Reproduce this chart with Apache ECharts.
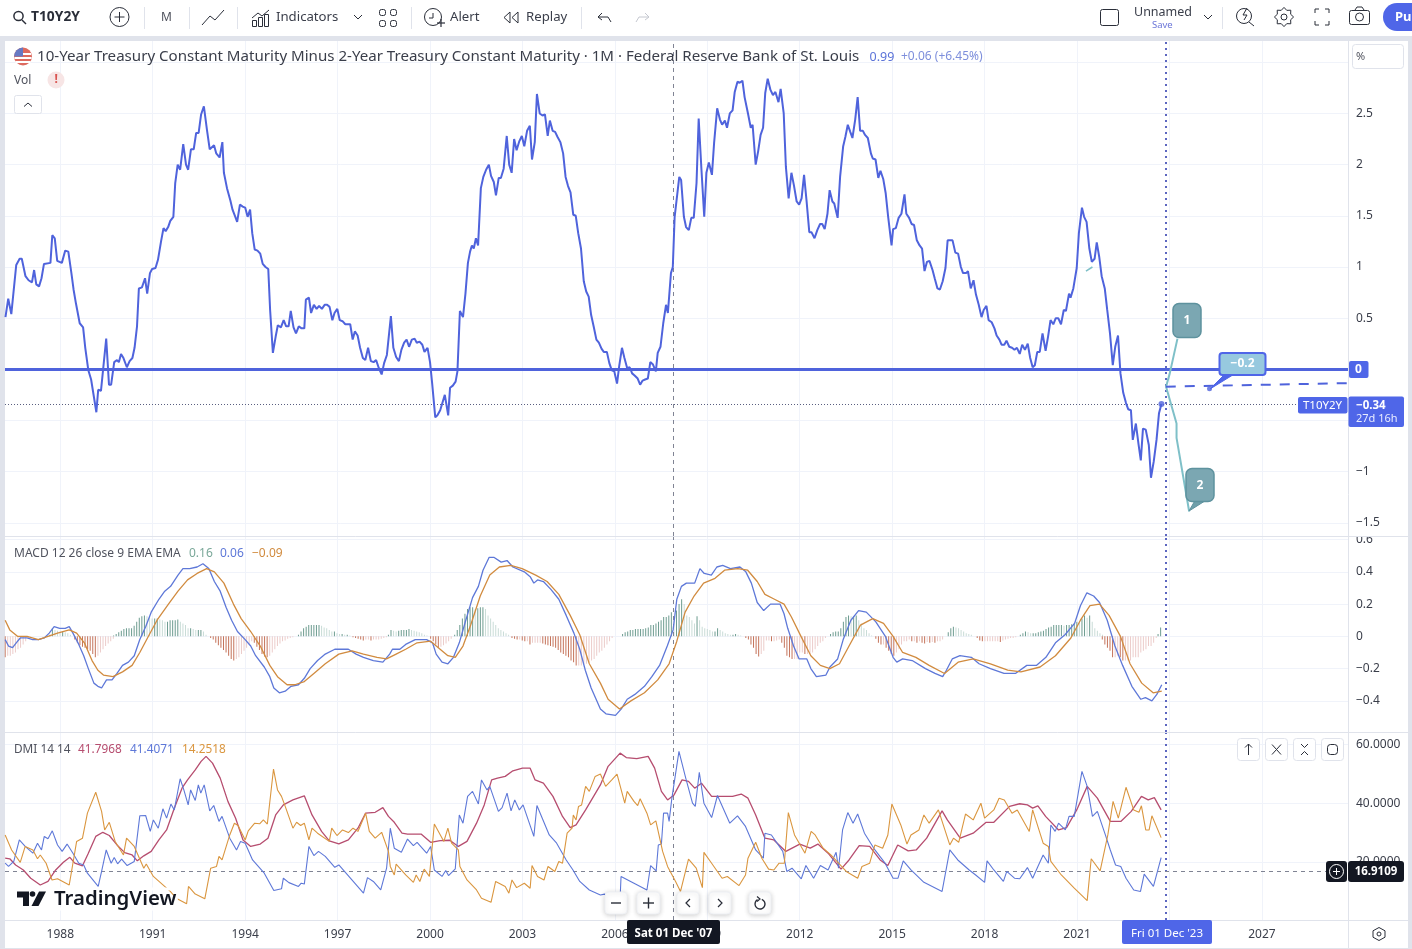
<!DOCTYPE html>
<html><head><meta charset="utf-8">
<style>html,body{margin:0;padding:0;background:#fff;overflow:hidden}#chart{width:1412px;height:949px}</style>
<script src="https://cdn.jsdelivr.net/npm/echarts@6/dist/echarts.min.js"></script>
</head><body><div id="chart"></div>
<script>
const yearTicks=[1988,1991,1994,1997,2000,2003,2006,2009,2012,2015,2018,2021,2024,2027];
const spreadTicks=[2.5,2,1.5,1,0.5,-1,-1.5];
const spreadGrid=[3,2.5,2,1.5,1,0.5,0,-0.5,-1,-1.5];
const macdTicks=[0.6,0.4,0.2,0,-0.2,-0.4];
const dmiTicks=[60,40,20];
const crossDate=2007.89, cursorDate=2023.88, lastPrice=-0.34, crossDmi=16.91;

const spread=[[1986.22,.51],[1986.31,.69],[1986.41,.54],[1986.57,1.02],[1986.68,1.08],[1986.75,1.08],[1986.87,.91],[1986.97,.87],[1987.08,.85],[1987.15,.97],[1987.22,.83],[1987.31,.81],[1987.39,.89],[1987.47,1.03],[1987.68,1.04],[1987.74,1.31],[1987.82,1.28],[1987.9,1.06],[1988.05,1.04],[1988.16,1.16],[1988.26,1.15],[1988.36,.94],[1988.43,.78],[1988.51,.64],[1988.63,.45],[1988.74,.41],[1988.81,.21],[1988.91,-.01],[1989,-.1],[1989.17,-.42],[1989.23,-.2],[1989.32,-.21],[1989.41,.06],[1989.49,.3],[1989.58,-.15],[1989.65,-.15],[1989.75,.07],[1989.84,.09],[1989.9,.07],[1989.97,.15],[1990.05,.11],[1990.16,.02],[1990.25,.08],[1990.34,.11],[1990.41,.21],[1990.49,.42],[1990.55,.79],[1990.65,.8],[1990.75,.89],[1990.82,.74],[1990.91,.94],[1990.98,.98],[1991.09,.99],[1991.17,1.07],[1991.27,1.25],[1991.35,1.38],[1991.42,1.35],[1991.5,1.39],[1991.57,1.45],[1991.67,1.49],[1991.73,1.82],[1991.81,2],[1991.89,1.95],[1991.99,2.2],[1992.08,2],[1992.15,1.95],[1992.24,2.15],[1992.33,2.15],[1992.41,2.31],[1992.49,2.31],[1992.57,2.49],[1992.66,2.57],[1992.76,2.34],[1992.85,2.15],[1992.91,2.14],[1992.99,2.19],[1993.06,2.11],[1993.17,2.07],[1993.26,2.22],[1993.31,1.92],[1993.41,1.77],[1993.52,1.65],[1993.59,1.56],[1993.68,1.49],[1993.74,1.44],[1993.83,1.61],[1993.92,1.59],[1994,1.58],[1994.08,1.49],[1994.16,1.56],[1994.23,1.33],[1994.31,1.17],[1994.4,1.16],[1994.49,1.13],[1994.57,1.03],[1994.66,1],[1994.75,.98],[1994.81,.58],[1994.9,.16],[1994.99,.32],[1995.06,.43],[1995.16,.41],[1995.25,.48],[1995.33,.42],[1995.41,.42],[1995.48,.57],[1995.57,.41],[1995.65,.35],[1995.74,.42],[1995.83,.4],[1995.92,.4],[1995.97,.68],[1996.07,.7],[1996.14,.55],[1996.23,.63],[1996.32,.59],[1996.4,.62],[1996.49,.59],[1996.58,.63],[1996.66,.63],[1996.74,.61],[1996.83,.48],[1996.9,.55],[1996.99,.59],[1997.07,.48],[1997.16,.47],[1997.25,.44],[1997.31,.45],[1997.41,.44],[1997.49,.29],[1997.56,.37],[1997.65,.33],[1997.73,.21],[1997.82,.11],[1997.9,.09],[1997.99,.21],[1998.08,.08],[1998.17,.07],[1998.25,.09],[1998.34,.01],[1998.43,-.05],[1998.51,.06],[1998.6,.14],[1998.64,.15],[1998.73,.52],[1998.81,.21],[1998.9,.12],[1998.99,.08],[1999.07,.19],[1999.16,.26],[1999.24,.29],[1999.32,.22],[1999.41,.29],[1999.5,.3],[1999.57,.26],[1999.66,.27],[1999.75,.24],[1999.82,.17],[1999.92,.21],[2000,.07],[2000.07,-.14],[2000.17,-.47],[2000.24,-.45],[2000.33,-.4],[2000.48,-.25],[2000.59,-.45],[2000.65,-.18],[2000.74,-.16],[2000.83,-.12],[2000.89,-.02],[2000.97,.57],[2001.07,.51],[2001.15,.74],[2001.23,1.04],[2001.3,1.15],[2001.36,1.21],[2001.42,1.18],[2001.49,1.28],[2001.56,1.21],[2001.65,1.77],[2001.73,1.88],[2001.82,1.95],[2001.91,2],[2001.98,1.89],[2002.07,1.83],[2002.14,1.7],[2002.23,1.87],[2002.3,1.87],[2002.39,1.96],[2002.49,2.28],[2002.57,2],[2002.65,1.92],[2002.73,2.25],[2002.81,2.14],[2002.9,2.23],[2002.98,2.28],[2003.06,2.18],[2003.15,2.33],[2003.24,2.38],[2003.31,2.05],[2003.4,2.22],[2003.47,2.69],[2003.56,2.5],[2003.65,2.48],[2003.73,2.49],[2003.82,2.28],[2003.89,2.43],[2003.98,2.33],[2004.06,2.32],[2004.14,2.27],[2004.23,2.22],[2004.32,2.11],[2004.4,1.88],[2004.48,1.79],[2004.56,1.73],[2004.65,1.51],[2004.73,1.5],[2004.81,1.33],[2004.9,1.18],[2004.99,.86],[2005.07,.76],[2005.15,.71],[2005.23,.53],[2005.31,.42],[2005.4,.29],[2005.48,.26],[2005.57,.2],[2005.64,.17],[2005.74,.17],[2005.82,.06],[2005.9,-.01],[2005.98,-.02],[2006.07,-.14],[2006.14,.03],[2006.23,.21],[2006.31,.11],[2006.4,.01],[2006.48,.02],[2006.56,-.04],[2006.64,-.06],[2006.74,-.09],[2006.82,-.15],[2006.9,-.11],[2006.98,-.1],[2007.07,-.09],[2007.15,.07],[2007.23,.05],[2007.33,-.02],[2007.39,.16],[2007.48,.22],[2007.57,.45],[2007.66,.63],[2007.72,.55],[2007.82,.94],[2007.88,1],[2007.94,1.49],[2008.09,1.88],[2008.15,1.85],[2008.24,1.49],[2008.31,1.39],[2008.4,1.36],[2008.48,1.48],[2008.56,1.48],[2008.65,1.82],[2008.72,2.45],[2008.81,1.95],[2008.9,1.49],[2008.97,1.92],[2009.05,2.02],[2009.15,1.9],[2009.22,2.21],[2009.32,2.55],[2009.41,2.44],[2009.48,2.39],[2009.57,2.43],[2009.64,2.36],[2009.73,2.5],[2009.82,2.53],[2009.89,2.71],[2009.98,2.81],[2010.05,2.8],[2010.14,2.82],[2010.21,2.66],[2010.32,2.5],[2010.41,2.36],[2010.47,2.39],[2010.57,2],[2010.65,2.13],[2010.73,2.29],[2010.81,2.36],[2010.88,2.7],[2010.96,2.84],[2011.05,2.73],[2011.13,2.68],[2011.21,2.71],[2011.31,2.61],[2011.38,2.74],[2011.48,2.5],[2011.55,1.98],[2011.64,1.67],[2011.73,1.92],[2011.81,1.8],[2011.9,1.64],[2011.98,1.61],[2012.06,1.67],[2012.14,1.9],[2012.22,1.65],[2012.31,1.34],[2012.38,1.34],[2012.48,1.28],[2012.57,1.36],[2012.66,1.42],[2012.73,1.42],[2012.81,1.37],[2012.9,1.52],[2012.97,1.75],[2013.06,1.64],[2013.12,1.62],[2013.23,1.48],[2013.31,1.88],[2013.41,2.18],[2013.48,2.27],[2013.56,2.39],[2013.64,2.32],[2013.71,2.26],[2013.8,2.44],[2013.88,2.66],[2013.96,2.33],[2014.05,2.33],[2014.12,2.29],[2014.21,2.26],[2014.31,2.11],[2014.37,2.06],[2014.46,2.05],[2014.55,1.87],[2014.62,1.94],[2014.71,1.86],[2014.79,1.72],[2014.87,1.49],[2014.98,1.21],[2015.03,1.37],[2015.12,1.38],[2015.21,1.48],[2015.3,1.52],[2015.4,1.71],[2015.46,1.52],[2015.55,1.48],[2015.63,1.42],[2015.71,1.41],[2015.8,1.26],[2015.89,1.21],[2015.97,1.18],[2016.05,.96],[2016.13,1.05],[2016.21,1.06],[2016.31,.97],[2016.38,.89],[2016.47,.79],[2016.55,.78],[2016.64,.86],[2016.73,.99],[2016.8,1.26],[2016.89,1.26],[2016.96,1.26],[2017.05,1.14],[2017.14,1.13],[2017.23,1],[2017.3,.94],[2017.4,.94],[2017.46,.96],[2017.55,.79],[2017.64,.87],[2017.72,.73],[2017.81,.63],[2017.9,.51],[2017.97,.58],[2018.06,.62],[2018.13,.48],[2018.23,.46],[2018.32,.4],[2018.39,.33],[2018.48,.29],[2018.55,.24],[2018.64,.24],[2018.71,.28],[2018.8,.22],[2018.89,.21],[2018.97,.19],[2019.05,.21],[2019.14,.15],[2019.22,.24],[2019.31,.19],[2019.4,.25],[2019.48,.11],[2019.56,.02],[2019.63,.04],[2019.71,.17],[2019.79,.17],[2019.88,.35],[2019.98,.18],[2020.06,.32],[2020.14,.48],[2020.23,.44],[2020.31,.5],[2020.39,.5],[2020.48,.44],[2020.57,.58],[2020.64,.57],[2020.74,.74],[2020.79,.7],[2020.88,.79],[2020.99,.99],[2021.06,1.33],[2021.16,1.58],[2021.23,1.49],[2021.31,1.44],[2021.4,1.18],[2021.48,1.05],[2021.57,1.08],[2021.64,1.24],[2021.72,1.1],[2021.8,.91],[2021.9,.79],[2021.98,.58],[2022.07,.35],[2022.16,.04],[2022.24,.22],[2022.33,.33],[2022.41,-.04],[2022.5,-.23],[2022.59,-.33],[2022.66,-.39],[2022.75,-.4],[2022.81,-.69],[2022.91,-.53],[2023,-.74],[2023.07,-.89],[2023.14,-.58],[2023.23,-.59],[2023.33,-.74],[2023.4,-1.06],[2023.49,-.9],[2023.58,-.69],[2023.66,-.43],[2023.74,-.34]];
const elliott=[[2024.26,.30],[2024.01,-.04],[2023.89,-.17],[2024.23,-.53],[2024.23,-.67],[2024.64,-1.39]];
const elliottStub=[[2021.29,.96],[2021.5,1.0]];
const targetLine=[[2023.88,-.17],[2029.795,-.135]];
const targetAnchor=[[2025.3,-.19]];

const macd=[[1986.21,-.02],[1986.32,-.06],[1986.45,-.07],[1986.57,-.04],[1986.7,-.01],[1986.92,-.01],[1987.1,-.02],[1987.29,-.02],[1987.48,-.01],[1987.64,.02],[1987.8,.06],[1987.98,.05],[1988.16,.05],[1988.29,.06],[1988.41,.02],[1988.6,-.05],[1988.76,-.12],[1988.91,-.2],[1989.09,-.29],[1989.22,-.31],[1989.34,-.32],[1989.5,-.27],[1989.68,-.27],[1989.84,-.23],[1990.02,-.18],[1990.21,-.16],[1990.4,-.12],[1990.58,-.02],[1990.77,.06],[1990.95,.15],[1991.2,.23],[1991.39,.28],[1991.58,.31],[1991.82,.38],[1991.98,.42],[1992.2,.42],[1992.44,.43],[1992.63,.45],[1992.82,.42],[1993,.34],[1993.19,.28],[1993.38,.18],[1993.56,.1],[1993.75,.03],[1994,-.02],[1994.18,-.06],[1994.34,-.12],[1994.62,-.19],[1994.8,-.25],[1994.93,-.32],[1995.11,-.35],[1995.3,-.34],[1995.49,-.31],[1995.73,-.3],[1995.92,-.26],[1996.11,-.2],[1996.35,-.15],[1996.6,-.11],[1996.91,-.08],[1997.35,-.08],[1997.6,-.11],[1997.84,-.13],[1998.16,-.15],[1998.47,-.16],[1998.69,-.11],[1998.78,-.08],[1999.02,-.08],[1999.21,-.05],[1999.52,-.02],[1999.89,-.02],[2000.08,-.04],[2000.2,-.11],[2000.39,-.16],[2000.58,-.17],[2000.76,-.13],[2000.95,-.04],[2001.13,.08],[2001.38,.24],[2001.57,.31],[2001.72,.41],[2001.92,.49],[2002.07,.49],[2002.31,.46],[2002.5,.47],[2002.69,.43],[2003.06,.4],[2003.25,.37],[2003.37,.33],[2003.49,.35],[2003.68,.34],[2003.93,.29],[2004.18,.23],[2004.42,.13],[2004.67,.02],[2004.86,-.08],[2005.04,-.21],[2005.23,-.32],[2005.53,-.45],[2005.71,-.48],[2006.02,-.49],[2006.21,-.45],[2006.4,-.39],[2006.65,-.36],[2006.96,-.31],[2007.2,-.25],[2007.45,-.18],[2007.7,-.06],[2007.89,.04],[2008.01,.23],[2008.16,.31],[2008.32,.33],[2008.59,.33],[2008.76,.42],[2008.9,.39],[2009.13,.38],[2009.31,.43],[2009.5,.44],[2009.75,.42],[2010.06,.43],[2010.25,.4],[2010.43,.33],[2010.62,.21],[2010.83,.16],[2011.05,.2],[2011.36,.2],[2011.49,.14],[2011.61,.05],[2011.8,-.06],[2011.98,-.14],[2012.23,-.14],[2012.36,-.2],[2012.54,-.25],[2012.85,-.24],[2012.98,-.19],[2013.23,-.14],[2013.41,-.02],[2013.66,.1],[2013.91,.16],[2014.16,.15],[2014.47,.09],[2014.78,0],[2015.03,-.13],[2015.15,-.16],[2015.34,-.14],[2015.65,-.15],[2016.08,-.2],[2016.39,-.23],[2016.64,-.25],[2016.76,-.21],[2016.95,-.14],[2017.2,-.12],[2017.57,-.13],[2017.82,-.17],[2018.19,-.2],[2018.63,-.23],[2019,-.23],[2019.37,-.18],[2019.68,-.18],[2019.99,-.13],[2020.3,-.04],[2020.61,.01],[2020.92,.08],[2021.11,.19],[2021.32,.27],[2021.54,.25],[2021.73,.21],[2021.98,.1],[2022.23,-.06],[2022.48,-.18],[2022.78,-.31],[2023.07,-.39],[2023.22,-.38],[2023.43,-.4],[2023.59,-.36],[2023.75,-.3]];
const signal=[[1986.21,.1],[1986.36,.04],[1986.61,0],[1986.92,0],[1987.29,-.02],[1987.6,0],[1987.91,.02],[1988.29,.04],[1988.53,.02],[1988.78,-.04],[1989.03,-.15],[1989.22,-.21],[1989.4,-.24],[1989.71,-.25],[1990.02,-.22],[1990.33,-.18],[1990.58,-.1],[1990.83,-.01],[1991.14,.1],[1991.51,.2],[1991.82,.28],[1992.13,.35],[1992.44,.39],[1992.75,.42],[1993,.4],[1993.31,.33],[1993.62,.2],[1993.87,.11],[1994.18,.03],[1994.49,-.06],[1994.8,-.18],[1995.05,-.25],[1995.36,-.3],[1995.61,-.3],[1995.92,-.28],[1996.23,-.23],[1996.6,-.17],[1997.04,-.11],[1997.47,-.09],[1997.84,-.11],[1998.28,-.13],[1998.59,-.14],[1998.9,-.11],[1999.21,-.08],[1999.58,-.04],[2000.02,-.03],[2000.27,-.07],[2000.58,-.12],[2000.82,-.13],[2001.07,-.06],[2001.32,.07],[2001.63,.25],[2001.94,.38],[2002.25,.43],[2002.62,.44],[2002.99,.42],[2003.43,.38],[2003.8,.34],[2004.18,.26],[2004.55,.13],[2004.86,.01],[2005.17,-.17],[2005.53,-.29],[2005.78,-.39],[2006.15,-.45],[2006.52,-.4],[2006.96,-.35],[2007.39,-.27],[2007.76,-.17],[2008.01,-.03],[2008.28,.15],[2008.57,.25],[2008.88,.33],[2009.25,.36],[2009.56,.41],[2009.99,.42],[2010.31,.41],[2010.62,.34],[2010.87,.26],[2011.18,.23],[2011.49,.2],[2011.73,.12],[2012.04,0],[2012.36,-.12],[2012.67,-.18],[2012.98,-.2],[2013.29,-.17],[2013.6,-.06],[2013.97,.07],[2014.37,.11],[2014.72,.08],[2015.03,0],[2015.34,-.1],[2015.77,-.13],[2016.2,-.18],[2016.7,-.23],[2017.14,-.16],[2017.63,-.14],[2018.19,-.17],[2018.75,-.21],[2019.18,-.22],[2019.8,-.19],[2020.3,-.12],[2020.8,-.01],[2021.11,.1],[2021.42,.19],[2021.73,.2],[2022.04,.13],[2022.41,0],[2022.72,-.17],[2023.1,-.29],[2023.47,-.35],[2023.75,-.34]];
const histRuns=[
[1986.21,[-.13,-.12,-.12,-.11,-.1,-.08,-.07,-.05,-.03,-.01]],
[1987.66,[.01,.05,.04,.035,.03,.03,.025,.02,.01]],
[1988.47,[-.02,-.04,-.055,-.065,-.07,-.08,-.09,-.11,-.13,-.12,-.1,-.08,-.06,-.045,-.03,-.015]],
[1989.73,[.005,.015,.025,.035,.045,.05,.05,.05,.065,.09,.115,.125,.13,.125,.12,.11,.11,.11,.105,.1,.09,.09,.1,.1,.1,.105,.09,.08,.07,.05,.05,.045,.04,.04,.04,.03,.01]],
[1992.88,[-.01,-.02,-.04,-.055,-.07,-.085,-.1,-.12,-.14,-.15,-.14,-.13,-.11,-.09,-.07,-.05,-.03,-.04,-.065,-.085,-.11,-.125,-.13,-.12,-.1,-.08,-.06,-.045,-.03,-.025,-.015,-.01,-.005]],
[1995.73,[.01,.03,.05,.06,.07,.07,.07,.07,.07,.065,.055,.05,.04,.03,.03,.02,.015,.015,.01,.01,.005]],
[1997.5,[-.005,-.01,-.015,-.02,-.025,-.02,-.02,-.025,-.02,-.02,-.02,-.015,-.01,-.005]],
[1998.65,[.01,.04,.035,.03,.035,.04,.04,.04,.045,.04,.035,.03,.025,.02,.01,.005]],
[2000.02,[-.015,-.03,-.05,-.07,-.065,-.055,-.045,-.03,-.015]],
[2000.8,[.01,.04,.07,.11,.14,.17,.18,.18,.17,.175,.18,.18,.17,.13,.11,.09,.07,.05,.04,.03,.02,.01]],
[2002.66,[-.01,-.015,-.02,-.02,-.025,-.03,-.03,-.05,-.04,-.04,-.04,-.04,-.045,-.05,-.055,-.06,-.065,-.07,-.085,-.1,-.11,-.12,-.13,-.15,-.16,-.18,-.18,-.18,-.17,-.17,-.16,-.15,-.14,-.12,-.1,-.09,-.07,-.05,-.03,-.01]],
[2006.25,[.015,.025,.03,.04,.04,.045,.045,.045,.045,.05,.055,.07,.07,.08,.09,.1,.12,.12,.13,.15,.12,.16,.2,.23,.2,.13,.12,.1,.08,.125,.1,.06,.05,.045,.04,.03,.03,.05,.04,.03,.02,.015,.01,.01,.015,.01,.005]],
[2010.25,[-.01,-.02,-.05,-.07,-.11,-.125,-.11,-.09,-.025,-.025,-.03,-.03,-.025,-.02,-.04,-.07,-.12,-.13,-.14,-.14,-.14,-.1,-.1,-.11,-.11,-.11,-.1,-.08,-.06,-.04,-.03,-.01]],
[2013.0,[.015,.025,.03,.03,.05,.09,.12,.13,.125,.125,.13,.1,.08,.05,.04,.02,.005]],
[2014.47,[-.015,-.04,-.05,-.05,-.07,-.09,-.11,-.12,-.1,-.08,-.05,-.03,-.03,-.02,-.03,-.03,-.04,-.03,-.04,-.045,-.035,-.04,-.035,-.04,-.03,-.03,-.02]],
[2016.82,[.025,.05,.06,.055,.05,.04,.03,.02,.015,.01]],
[2017.76,[-.01,-.025,-.03,-.03,-.03,-.03,-.03,-.03,-.03,-.035,-.025,-.02,-.015,-.01,-.01,-.005]],
[2019.16,[.01,.02,.03,.025,.02,.02,.02,.025,.03,.035,.045,.055,.06,.07,.07,.07,.07,.065,.07,.07,.075,.08,.09,.085,.11,.13,.115,.13,.09,.05,.035,.02,.01]],
[2021.82,[-.02,-.05,-.07,-.09,-.13,-.13,-.12,-.13,-.15,-.15,-.15,-.15,-.13,-.13,-.13,-.1,-.09,-.08,-.06,-.06,-.04,-.01]],
[2023.63,[.015,.055]]
];
const adx=[[1986.21,21.3],[1986.36,21.1],[1986.55,19],[1986.8,17.3],[1987.04,14.5],[1987.35,12.2],[1987.6,13.4],[1987.85,17.3],[1988.1,19.9],[1988.31,21.6],[1988.47,19.6],[1988.72,18.7],[1988.91,23],[1989.15,28.7],[1989.38,30.1],[1989.59,29],[1989.84,25.8],[1990.09,23.2],[1990.33,22.4],[1990.5,20.4],[1990.71,22.1],[1990.95,23.6],[1991.2,27.5],[1991.45,30.9],[1991.7,38.3],[1991.95,45.1],[1992.13,47.9],[1992.38,51.3],[1992.57,54.2],[1992.73,55.9],[1992.94,53.6],[1993.19,48.5],[1993.44,40.6],[1993.69,34.9],[1993.93,27.5],[1994.18,25.3],[1994.49,26.1],[1994.74,28.1],[1994.99,36],[1995.24,39.4],[1995.55,41.1],[1995.92,42.5],[1996.17,36],[1996.48,30.4],[1996.73,27.2],[1997.04,26.2],[1997.35,27.5],[1997.66,31.5],[1997.91,36.6],[1998.22,36.9],[1998.47,38.5],[1998.65,35.5],[1998.84,33.5],[1999.09,29.8],[1999.27,29.5],[1999.71,29.5],[2000.02,26.7],[2000.33,27.3],[2000.64,27.4],[2000.92,25.3],[2001.2,27],[2001.51,33.2],[2001.76,39.4],[2002,47.9],[2002.19,48.5],[2002.44,49.1],[2002.69,51],[2003,51.9],[2003.25,51.9],[2003.41,47.9],[2003.68,46.8],[2003.99,42.3],[2004.3,35.5],[2004.55,31.7],[2004.74,32.6],[2005.05,37.7],[2005.53,46.2],[2005.78,52.5],[2006.17,57],[2006.37,55.5],[2006.71,55.1],[2007.08,55.9],[2007.29,51.9],[2007.51,44],[2007.71,41.1],[2007.92,42.8],[2008.18,47.9],[2008.39,47.4],[2008.59,45.1],[2008.81,46.8],[2009.14,42.3],[2009.56,42.3],[2009.82,42.3],[2010.1,43.1],[2010.32,41.7],[2010.57,36],[2010.87,28.1],[2011.16,27.5],[2011.55,23.6],[2012,26.1],[2012.34,24.7],[2012.59,26.1],[2012.92,23],[2013.34,17.6],[2013.6,20.7],[2013.93,25.6],[2014.27,25.3],[2014.61,20.7],[2014.86,18.8],[2015.18,25.8],[2015.52,23.8],[2015.78,24.1],[2016.12,28.1],[2016.62,37.4],[2016.79,34.3],[2017.21,28.1],[2017.63,29.8],[2018.05,33.5],[2018.3,33.5],[2018.81,38.9],[2019.14,39.8],[2019.39,39.4],[2019.56,38.3],[2019.73,39.1],[2019.98,35.5],[2020.4,30.9],[2020.66,31.7],[2020.99,37.7],[2021.33,45.7],[2021.66,41.7],[2022.08,33.8],[2022.42,33.8],[2022.76,37.2],[2023.09,42.3],[2023.31,41.1],[2023.51,41.9],[2023.73,37.7]];
const plusDi=[[1986.21,19.6],[1986.32,18.5],[1986.49,20.2],[1986.67,27.5],[1986.86,25.3],[1987.11,23],[1987.26,26.4],[1987.39,24.1],[1987.48,28.7],[1987.6,27.9],[1987.74,30.6],[1987.91,25.8],[1988.06,23.6],[1988.22,26.1],[1988.41,23],[1988.6,19.6],[1988.76,19],[1988.88,16.2],[1989.23,11.7],[1989.34,16.8],[1989.4,16.5],[1989.49,24.1],[1989.65,19.6],[1989.75,21.5],[1989.86,19.4],[1989.99,21],[1990.17,18.8],[1990.4,20.2],[1990.58,35.7],[1990.77,35.8],[1990.92,30.4],[1991.02,34.3],[1991.18,31.5],[1991.33,38.1],[1991.45,34.9],[1991.59,39.7],[1991.7,37.7],[1991.89,48.3],[1992.01,44.5],[1992.15,39.4],[1992.23,44.5],[1992.38,40.9],[1992.48,46.2],[1992.56,43.4],[1992.67,46.2],[1992.85,37.4],[1992.98,39.2],[1993.15,33.8],[1993.25,35.5],[1993.5,28.1],[1993.72,24.1],[1993.85,27],[1994,26.4],[1994.24,20.7],[1994.62,16.2],[1994.93,10.3],[1995.18,10.9],[1995.24,14.5],[1995.42,13],[1995.73,11.7],[1995.82,12.8],[1995.92,12.5],[1996.07,25.3],[1996.23,22.2],[1996.38,23.6],[1996.6,21.9],[1996.91,18.2],[1997.04,19],[1997.84,9.4],[1997.97,14.7],[1998.16,13.4],[1998.4,10.5],[1998.59,17.9],[1998.71,31.5],[1998.84,24.7],[1999.07,23.3],[1999.27,27.8],[1999.46,25.6],[1999.58,26.7],[1999.89,23],[2000.02,25.3],[2000.14,17.3],[2000.39,15.1],[2000.51,17.1],[2000.6,15.4],[2000.82,17.7],[2000.95,36],[2001.07,33.2],[2001.22,42.3],[2001.38,44],[2001.57,39.7],[2001.67,47.9],[2001.85,44.5],[2001.94,45.7],[2002.22,37.2],[2002.34,38.5],[2002.5,43.4],[2002.63,37.4],[2002.75,41.1],[2002.9,37.7],[2003.02,39.4],[2003.37,28.7],[2003.47,39.2],[2003.87,29.2],[2004.11,26.4],[2004.42,20.7],[2004.64,17.3],[2004.86,13.4],[2005.17,10.5],[2005.53,8.8],[2005.66,9.1],[2006.17,7.7],[2006.2,15.1],[2007.04,10.5],[2007.16,18.8],[2007.34,17],[2007.41,25.8],[2007.51,26.1],[2007.58,36.6],[2007.71,36.6],[2007.76,33.8],[2007.85,41.7],[2008.08,57.6],[2008.3,48.5],[2008.52,40],[2008.61,38.9],[2008.74,50.5],[2008.89,40],[2009.14,35.1],[2009.33,42.6],[2009.73,33.2],[2009.98,35.7],[2010.24,32.1],[2010.57,24.1],[2010.82,21.3],[2010.87,29.8],[2011.08,29.2],[2011.45,23.6],[2011.58,16.8],[2011.75,17.9],[2012.05,14.3],[2012.2,18.8],[2012.45,14.5],[2012.67,18.8],[2012.92,17.3],[2013.18,23.3],[2013.26,17.9],[2013.39,30.9],[2013.56,36.8],[2013.73,33.2],[2013.88,36.3],[2014.1,29.8],[2014.44,24.1],[2014.77,19.6],[2015.03,14.5],[2015.19,14.5],[2015.36,20.4],[2015.61,17.3],[2016.03,13.1],[2016.62,10],[2016.87,24.1],[2017.13,20.7],[2017.5,17.3],[2017.71,15.6],[2018,13.1],[2018.08,20.4],[2018.3,17.3],[2018.61,13.4],[2018.72,16.8],[2018.97,14.5],[2019.14,14.3],[2019.39,18.1],[2019.56,14.5],[2019.73,18.5],[2019.9,22.4],[2020.07,19.6],[2020.15,32.6],[2020.29,30.4],[2020.4,33.2],[2020.62,30.9],[2020.74,35.5],[2020.91,35.5],[2021.16,50.8],[2021.33,45.7],[2021.5,35.5],[2021.66,37.2],[2021.92,29.2],[2022.08,24.1],[2022.25,19],[2022.42,18.5],[2022.59,14.5],[2022.84,10.5],[2023.06,10],[2023.18,15.9],[2023.48,11.7],[2023.73,21.5]];
const minusDi=[[1986.21,29.2],[1986.42,24.1],[1986.7,19.9],[1986.86,25.3],[1987.11,24.1],[1987.26,21.1],[1987.35,22.4],[1987.54,19.6],[1987.73,13.9],[1987.91,14.3],[1988.29,12.2],[1988.53,27],[1988.72,28.1],[1988.88,36.6],[1989.15,43.7],[1989.34,37.2],[1989.44,30.9],[1989.59,33.5],[1989.78,27],[1990.05,22.4],[1990.15,28.1],[1990.4,25.3],[1990.71,17.9],[1990.79,19.3],[1991.02,15.1],[1991.57,10],[1991.76,7.7],[1992.1,5.8],[1992.16,11.7],[1992.38,9.1],[1992.69,7.5],[1992.88,17.9],[1993.07,18.5],[1993.15,21.9],[1993.25,20.7],[1993.5,29.2],[1993.65,33.2],[1993.77,32.4],[1994,27.5],[1994.1,30.6],[1994.31,33.2],[1994.47,33],[1994.59,34.3],[1994.72,32.9],[1994.92,51.6],[1995.05,44.5],[1995.18,42.3],[1995.3,38.9],[1995.55,31.5],[1995.67,33.5],[1995.8,32.4],[1995.92,33.2],[1996.07,27.5],[1996.17,31.5],[1996.35,29.8],[1996.73,27],[1996.81,31.5],[1996.98,29],[1997.16,30.9],[1997.35,30],[1997.5,31.5],[1997.66,30.4],[1997.91,36.6],[1998.03,30.4],[1998.22,28.1],[1998.43,30.1],[1998.65,23.6],[1998.71,18.5],[1998.84,15.6],[1998.9,19.3],[1999.21,15.6],[1999.46,13.1],[1999.55,15.6],[1999.67,13.4],[1999.81,17.6],[1999.98,15.1],[2000.14,32.9],[2000.45,27],[2000.58,31.5],[2000.7,26.4],[2000.92,24.1],[2000.97,18.5],[2001.2,13.9],[2001.51,10.5],[2001.67,7.7],[2001.98,6.3],[2002.13,13.4],[2002.44,11.7],[2002.56,9.4],[2002.66,13.9],[2002.81,11.3],[2003.06,12.8],[2003.25,11.1],[2003.31,18.8],[2003.49,15.1],[2003.7,13.9],[2003.83,18.5],[2004.05,16.8],[2004.18,20.2],[2004.3,19.6],[2004.45,29.8],[2004.61,31.5],[2004.65,36],[2004.74,34.3],[2004.82,38.9],[2004.92,39.4],[2005.05,45.7],[2005.17,44],[2005.36,49.1],[2005.53,49.9],[2005.7,45.7],[2005.9,47.9],[2006.07,49.9],[2006.32,40],[2006.4,44],[2006.62,40.6],[2006.74,39.2],[2006.82,41.5],[2007.04,36.6],[2007.16,32.6],[2007.33,34],[2007.55,23.6],[2007.71,18.5],[2007.97,13.4],[2008.13,10],[2008.39,21],[2008.64,17.9],[2008.84,11.3],[2008.89,23.3],[2009.14,19.6],[2009.48,14.5],[2009.65,15.1],[2010.03,12],[2010.24,15.6],[2010.32,21.3],[2010.57,26.7],[2010.77,21.3],[2010.99,17.6],[2011.16,17.3],[2011.33,19.6],[2011.5,19.6],[2011.63,36.8],[2011.83,29.2],[2012.17,23],[2012.37,30.4],[2012.5,29.2],[2012.76,24.7],[2013.01,22.4],[2013.51,16.8],[2013.88,14.5],[2014.02,18.5],[2014.27,19.6],[2014.44,25.8],[2014.69,24.7],[2014.86,29.2],[2014.99,39.7],[2015.28,32.6],[2015.48,26.1],[2015.61,29.2],[2015.87,30.9],[2016.03,36],[2016.2,33.2],[2016.5,37.7],[2016.87,25.8],[2016.99,28.1],[2017.16,26.7],[2017.38,36.3],[2017.63,34.3],[2017.88,40],[2018,34.9],[2018.3,37.7],[2018.47,41.7],[2018.64,41.1],[2018.89,36.6],[2019.06,37.7],[2019.45,30.4],[2019.56,37.7],[2019.9,26.4],[2020.07,25.3],[2020.15,20.2],[2020.49,15.6],[2020.91,11.1],[2021.33,6.9],[2021.46,21.1],[2021.75,17],[2022,29.2],[2022.17,40.6],[2022.34,34.9],[2022.59,45.4],[2022.84,37.7],[2023.01,36.9],[2023.09,39.1],[2023.23,30.9],[2023.34,30.9],[2023.43,35.7],[2023.73,28.3]];

const macdHist=[];
histRuns.forEach(([start,vals])=>vals.forEach((v,i)=>macdHist.push([start+i/12,v])));

const FONT='"Noto Sans"', BLUE='#4f63dc', TEAL='#7fc0c8', INK='#2a2e39', GRID='#f0f3fa', EDGE='#e0e3eb', BADGE='#4f66e8', MACD_B='#5e78d8', MACD_O='#d18b3f', DMI_R='#b64d6f', DMI_O='#da963f';

const chart=echarts.init(document.getElementById('chart'),null,{renderer:'canvas'});
const T=(x,y,text,size,fill,extra={})=>({type:'text',x,y,z:extra.z||60,silent:true,style:Object.assign({text,fill:fill||INK,fontSize:size,fontFamily:FONT,align:'left',verticalAlign:'middle'},extra)});
const R=(x,y,w,h,fill,stroke,r=0,z=50,extra={})=>({type:'rect',z,silent:true,shape:{x,y,width:w,height:h,r},style:Object.assign({fill:fill||'transparent',stroke:stroke||'transparent',lineWidth:1},extra)});
const L=(pts,c=INK,w=1,z=60,extra={})=>({type:'polyline',z,silent:true,shape:{points:pts},style:Object.assign({stroke:c,fill:'transparent',lineWidth:w},extra)});
const C=(x,y,r,fill,stroke,w=1,z=60)=>({type:'circle',z,silent:true,shape:{cx:x,cy:y,r},style:{fill:fill||'transparent',stroke:stroke||'transparent',lineWidth:w}});
const P=(pts,fill,stroke,z=60)=>({type:'polygon',z,silent:true,shape:{points:pts},style:{fill,stroke:stroke||'transparent',lineWidth:1}});

const g=[];
// frame
g.push(R(0,36,1412,5,EDGE,null,0,1),R(0,36,5,913,EDGE,null,0,1),R(1408,36,4,913,EDGE,null,0,1),R(0,948,1412,1,EDGE,null,0,1));
g.push(L([[1348.5,41],[1348.5,948]],EDGE,1,40),L([[5,536.5],[1408,536.5]],EDGE,1,40),L([[5,732.5],[1408,732.5]],EDGE,1,40),L([[5,920.5],[1408,920.5]],EDGE,1,40));
g.push(R(1349,530,59,6,'#fff',null,0,45));
// toolbar
[144,189,237,411,581,1222].forEach(x=>g.push(L([[x+.5,7],[x+.5,29]],EDGE,1)));
g.push(C(18.5,16,4.6,null,INK,1.5),L([[22,20],[26,24]],INK,1.5));
g.push(T(31,17.5,'T10Y2Y',13.8,INK,{fontWeight:'bold'}));
g.push(C(119.5,17,9.5,null,INK,1),L([[119.5,12],[119.5,22]]),L([[114.5,17],[124.5,17]]));
g.push(T(161,18,'M',12,'#50535e'));
g.push(L([[202,25],[210,16],[215,20],[224,10]]));
g.push(L([[252,18],[258,13],[262,16],[269,10]]),R(252.5,20.5,4,6,null,INK),R(258.5,17.5,4,9,null,INK),R(264.5,14.5,4,12,null,INK));
g.push(T(276,17.5,'Indicators',13.2,'#3a3e4a'));
g.push(L([[354,15],[358,19],[362,15]]));
[[379.5,9.5],[390.5,9.5],[379.5,20.5],[390.5,20.5]].forEach(p=>g.push(R(p[0],p[1],6,6,null,INK,2)));
g.push(C(433,17,8.5,null,INK,1),L([[433,13],[433,18],[429,18]]),L([[441,19],[441,27]],INK,1.2),L([[437,23],[445,23]],INK,1.2));
g.push(T(450,17.5,'Alert',13.2,'#3a3e4a'));
g.push(L([[510,12],[504,17.5],[510,23],[510,12]]),L([[518,12],[512,17.5],[518,23],[518,12]]));
g.push(T(526,17.5,'Replay',13.2,'#3a3e4a'));
g.push(L([[602,13],[598,17],[602,20]]),L([[598,17],[608,17],[611,22]]));
g.push(L([[645,13],[649,17],[645,20]],'#c5c8d0'),L([[649,17],[639,17],[636,22]],'#c5c8d0'));
g.push(R(1100.5,9.5,18,16,null,INK,2));
g.push(T(1134,12.5,'Unnamed',12.5,'#3a3e4a'),T(1152,25,'Save',9.5,'#6a75d8'));
g.push(L([[1204,15],[1208,19],[1212,15]]));
g.push(C(1244,16,7.5,null,INK,1),L([[1249,22],[1254,26]]),L([[1247,8],[1243,15],[1247,15],[1244,20]]));
const gear=[];for(let i=0;i<16;i++){const a=i*Math.PI/8,r=i%2?7.2:9.6;gear.push([1284+r*Math.cos(a),17+r*Math.sin(a)]);}
g.push(P(gear,'#fff',INK),C(1284,17,3,null,INK,1,61));
g.push(L([[1315,13],[1315,9],[1319,9]]),L([[1325,9],[1329,9],[1329,13]]),L([[1329,21],[1329,25],[1325,25]]),L([[1319,25],[1315,25],[1315,21]]));
g.push(R(1349.5,10.5,20,14,null,INK,2),C(1359.5,17,4,null,INK,1),L([[1355,10],[1357,7],[1362,7],[1364,10]]));
g.push(R(1383,3,60,28,BADGE,null,14));
g.push(T(1395,17.5,'Publish',13,'#fff',{fontWeight:'bold'}));
// main legend
g.push(C(23,56.5,9,'#dd6a5f'),R(15,53,16,2,'#fff',null,0,61),R(14.5,57,17,2,'#fff',null,0,61),R(15.5,61,15,2,'#fff',null,0,61));
g.push({type:'sector',z:62,silent:true,shape:{cx:23,cy:56.5,r:9,r0:0,startAngle:Math.PI,endAngle:Math.PI*1.5},style:{fill:'#6679c4'}});
g.push(T(37,57,'10-Year Treasury Constant Maturity Minus 2-Year Treasury Constant Maturity · 1M · Federal Reserve Bank of St. Louis',15.1,'#3a3e4a'));
g.push(T(869.5,57,'0.99',12.5,'#5b73d8'),T(901,57,'+0.06 (+6.45%)',12,'#7e8fdc'));
g.push(T(14,80.5,'Vol',12,'#50535e'),C(56,80,8.5,'#f7e5e5'),T(54.5,80,'!',12,'#d9534f',{fontWeight:'bold',z:61}));
g.push(R(14.5,95.5,27,18,'#fff',EDGE,2,60),L([[24,106.5],[28,103],[32,106.5]]));
g.push(R(1352.5,44.5,51,24,'#fff',EDGE,3,60),T(1356,57,'%',11,'#50535e'));
// macd + dmi legend
g.push(T(14,553.5,'MACD 12 26 close 9 EMA EMA',12,'#50535e'),T(189,553.5,'0.16',12,'#7aa899'),T(220,553.5,'0.06',12,'#5e78d8'),T(252,553.5,'−0.09',12,'#d18b3f'));
g.push(T(14,749.5,'DMI 14 14',11.8,'#50535e'),T(78,749.5,'41.7968',11.8,DMI_R),T(130,749.5,'41.4071',11.8,'#5e78d8'),T(182,749.5,'14.2518',11.8,DMI_O));
// drawing callouts
g.push(R(1173,303.5,28,34,'#7ba7b2','#5e929e',6,30,{lineWidth:1.5}),T(1187,320.5,'1',12,'#fff',{align:'center',fontWeight:'bold',z:31}));
g.push(P([[1189,511],[1197,497],[1208,499]],'#6f9faa','#5e929e',29));
g.push(R(1186,468.5,28,33,'#7ba7b2','#5e929e',6,30,{lineWidth:1.5}),T(1200,485.5,'2',12,'#fff',{align:'center',fontWeight:'bold',z:31}));
g.push(P([[1210,389],[1226,373],[1236,373]],BADGE,BADGE,29));
g.push(R(1219.5,353,46,22,'#97c9df',BADGE,3,30,{lineWidth:2}),T(1242.5,364,'−0.2',12,'#fff',{align:'center',fontWeight:'bold',z:31}));
// price badges
g.push(R(1349,361,19.5,17,BADGE,null,2,70),T(1358.5,369.8,'0',12,'#fff',{align:'center',fontWeight:'bold',z:71}));
g.push(R(1298,397,49.5,16.5,BADGE,null,2,70),T(1322.5,405.5,'T10Y2Y',11.5,'#fff',{align:'center',z:71}));
g.push(R(1348.5,396.5,55.5,30.5,BADGE,null,2,70),T(1356,405.5,'−0.34',11.5,'#fff',{fontWeight:'bold',z:71}),T(1356,419,'27d 16h',11,'#e8ecff',{z:71}));
// dmi right
g.push(R(1326,861,21,21,'#131722',null,3,70),C(1336.5,871.5,7,null,'#fff',1,71),L([[1336.5,868],[1336.5,875]],'#fff',1,71),L([[1333,871.5],[1340,871.5]],'#fff',1,71));
g.push(R(1348,861,56,21,'#131722',null,3,70),T(1376,871.5,'16.9109',11.5,'#fff',{align:'center',fontWeight:'bold',z:71}));
// pane buttons
[[1237,'up'],[1265,'x'],[1293,'mm'],[1321,'sq']].forEach(([x,k])=>{
 g.push(R(x+.5,738.5,22,22,'#fff',EDGE,3,60));
 const cx=x+11.5;
 if(k==='up') g.push(L([[cx,755],[cx,744]]),L([[cx-3.5,747.5],[cx,744],[cx+3.5,747.5]]));
 if(k==='x') g.push(L([[cx-4.5,744.5],[cx+4.5,754.5]]),L([[cx-4.5,754.5],[cx+4.5,744.5]]));
 if(k==='mm') g.push(L([[cx-3.5,744],[cx,747.5],[cx+3.5,744]]),L([[cx-3.5,755],[cx,751.5],[cx+3.5,755]]));
 if(k==='sq') g.push(R(cx-5,744.5,10,10,null,INK,3,61));
});
// nav buttons
const nav=(x,w)=>R(x,892,w,22,'#fff','#eef0f4',4,55,{shadowBlur:5,shadowColor:'rgba(0,0,0,.18)',shadowOffsetY:1});
g.push(nav(605,22),L([[611,903],[621,903]],INK,1.4));
g.push(nav(637,23),L([[643,903],[654,903]],INK,1.4),L([[648.5,897.5],[648.5,908.5]],INK,1.4));
g.push(nav(677,22),L([[690,899],[686,903],[690,907]],INK,1.2));
g.push(nav(709,22),L([[718,899],[722,903],[718,907]],INK,1.2));
g.push(nav(749,22));
g.push({type:'arc',z:60,silent:true,shape:{cx:760,cy:904,r:5,startAngle:-1.2,endAngle:4.2},style:{stroke:INK,lineWidth:1.4,fill:'transparent'}},L([[757,896.5],[760,899],[757,901.5]],INK,1.2));
// logo
g.push(P([[17,891.5],[29,891.5],[29,906],[23,906],[23,897.5],[17,897.5]],'#131722',null,55),C(32.5,894,2.8,'#131722',null,1,55),P([[39,891.5],[46,891.5],[38.5,906],[31.5,906]],'#131722',null,55));
g.push(T(54,899,'TradingView',20.4,'#131722',{fontWeight:'600',textBorderColor:'#fff',textBorderWidth:3,z:55}));
// time badges
g.push(R(627,920,93,24,'#131722',null,2,70),T(673.5,934,"Sat 01 Dec '07",11.5,'#fff',{align:'center',fontWeight:'bold',z:71}));
g.push(R(1122,920,90,24,BADGE,null,2,70),T(1167,934,"Fri 01 Dec '23",11.5,'#fff',{align:'center',z:71}));
// settings hexagon
g.push(P([[1379,927.5],[1385,930.8],[1385,937.2],[1379,940.5],[1373,937.2],[1373,930.8]],'transparent',INK,60),C(1379,934,2,null,INK,1));

const xMin=1986.205,xMax=2029.795;
const mkX=(i,show)=>({type:'value',gridIndex:i,min:xMin,max:xMax,axisLine:{show:false},axisTick:{show:false,customValues:yearTicks},
 axisLabel:{show,customValues:yearTicks,formatter:v=>String(Math.round(v)),color:'#3a3e4a',fontFamily:FONT,fontSize:12,margin:9,hideOverlap:false},
 splitLine:{show:true,lineStyle:{color:GRID,width:1}}});
const mkY=(i,min,max,labels,grid,fmt,pad)=>({type:'value',gridIndex:i,position:'right',min,max,axisLine:{show:false},axisTick:{show:false,customValues:grid},
 axisLabel:{show:true,customValues:labels,formatter:fmt,color:'#3a3e4a',fontFamily:FONT,fontSize:12,margin:8,align:'left',hideOverlap:false,padding:pad},
 splitLine:{show:true,lineStyle:{color:GRID,width:1}}});
const minus=v=>String(v).replace('-','−');
const line=(name,xi,data,color,width,extra={})=>Object.assign({name,type:'line',xAxisIndex:xi,yAxisIndex:xi,data,showSymbol:false,symbol:'none',silent:true,animation:false,lineStyle:{color,width},itemStyle:{color},z:5},extra);

chart.setOption({
 animation:false,backgroundColor:'#fff',
 grid:[{left:5,width:1343,top:41,height:495},{left:5,width:1343,top:537,height:195},{left:5,width:1343,top:733,height:187}],
 xAxis:[mkX(0,false),mkX(1,false),mkX(2,true)],
 yAxis:[mkY(0,-1.629,3.208,spreadTicks,spreadGrid,minus,[2,0,0,0]),mkY(1,-.593,.616,macdTicks,macdTicks,minus,[2,0,0,0]),mkY(2,.3,63.84,dmiTicks,dmiTicks,v=>v.toFixed(4),[0,0,0,0])],
 graphic:{elements:g},
 series:[
  line('T10Y2Y',0,spread,BLUE,2,{z:6,markLine:{symbol:'none',silent:true,animation:false,label:{show:false},data:[
    {yAxis:0,lineStyle:{color:BLUE,width:3,type:'solid'}},
    {yAxis:lastPrice,lineStyle:{color:'#5a5f80',width:1,type:[1,2]}},
    {xAxis:crossDate,lineStyle:{color:'#808494',width:1,type:[4,4]}},
    {xAxis:cursorDate,lineStyle:{color:'#5c66c0',width:2,type:[2,4]}}]}}),
  line('Wave',0,elliott,TEAL,2,{z:7}),
  line('WaveStub',0,elliottStub,TEAL,1.6,{z:7}),
  line('Target',0,targetLine,BLUE,2,{z:7,lineStyle:{color:BLUE,width:2,type:[10,9]}}),
  {name:'TargetAnchor',type:'scatter',xAxisIndex:0,yAxisIndex:0,data:targetAnchor,symbolSize:5,itemStyle:{color:BLUE},silent:true,animation:false,z:8},
  {name:'Last',type:'scatter',xAxisIndex:0,yAxisIndex:0,data:[spread[spread.length-1]],symbolSize:6,itemStyle:{color:BLUE},silent:true,animation:false,z:8},
  {name:'Histogram',type:'bar',xAxisIndex:1,yAxisIndex:1,barWidth:1,silent:true,animation:false,z:3,
   data:macdHist.map((p,i)=>{const prev=i?macdHist[i-1][1]:0,up=p[1]>=prev,pos=p[1]>=0;
     return {value:p,itemStyle:{color:pos?(up?'#6d9c90':'#c9dcd7'):(up?'#ecccca':'#c5735a')}};})},
  line('MACD',1,macd,MACD_B,1.3,{z:6,markLine:{symbol:'none',silent:true,animation:false,label:{show:false},data:[
    {xAxis:crossDate,lineStyle:{color:'#808494',width:1,type:[4,4]}},
    {xAxis:cursorDate,lineStyle:{color:'#5c66c0',width:2,type:[2,4]}}]}}),
  line('Signal',1,signal,MACD_O,1.3,{z:6}),
  line('ADX',2,adx,DMI_R,1.3,{z:6,markLine:{symbol:'none',silent:true,animation:false,label:{show:false},data:[
    {xAxis:crossDate,lineStyle:{color:'#808494',width:1,type:[4,4]}},
    {xAxis:cursorDate,lineStyle:{color:'#5c66c0',width:2,type:[2,4]}},
    {yAxis:crossDmi,lineStyle:{color:'#808494',width:1,type:[4,4]}}]}}),
  line('+DI',2,plusDi,MACD_B,1.1,{z:6}),
  line('-DI',2,minusDi,DMI_O,1.1,{z:6})
 ]
});
</script></body></html>
